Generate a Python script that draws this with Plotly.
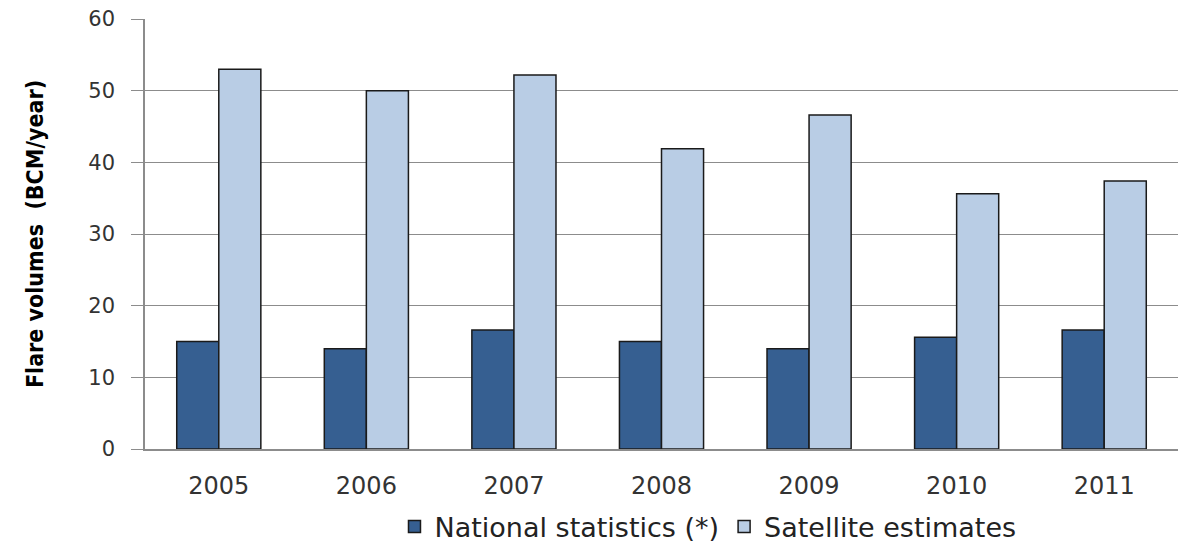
import plotly.graph_objects as go

years = ["2005", "2006", "2007", "2008", "2009", "2010", "2011"]
national = [15.0, 14.0, 16.6, 15.0, 14.0, 15.6, 16.6]
satellite = [53.0, 50.0, 52.2, 41.9, 46.6, 35.6, 37.4]
y_ticks = [0, 10, 20, 30, 40, 50, 60]

fig = go.Figure()
fig.add_bar(x=years, y=national, name="National statistics (*)",
            marker=dict(color="#365F91", line=dict(color="#1a1a1a", width=1.5)))
fig.add_bar(x=years, y=satellite, name="Satellite estimates",
            marker=dict(color="#B9CDE5", line=dict(color="#1a1a1a", width=1.5)))

fig.update_layout(
    width=1179, height=542,
    margin=dict(l=145, r=1, t=19, b=93, autoexpand=False),
    paper_bgcolor="white", plot_bgcolor="white",
    barmode="group", bargap=0.43, bargroupgap=0,
    font=dict(family="DejaVu Sans", size=20, color="#404040"),
    legend=dict(orientation="h", x=0.545, xanchor="center", y=-0.181, yanchor="middle",
                font=dict(family="DejaVu Sans", size=27, color="#222222"),
                traceorder="normal", itemwidth=30),
    showlegend=True,
)
fig.update_xaxes(showline=True, linecolor="#8c8c8c", linewidth=1.5, automargin=False,
                 ticks="", ticklabelstandoff=14,
                 tickfont=dict(size=24, color="#333333"))
fig.update_yaxes(range=[0, 60], tickvals=y_ticks, showgrid=True, gridcolor="#8c8c8c", gridwidth=1,
                 showline=True, linecolor="#8c8c8c", linewidth=1.5, automargin=False,
                 ticks="outside", ticklen=12, tickcolor="#8c8c8c",
                 ticklabelstandoff=12,
                 tickfont=dict(size=21, color="#333333"),
                 zeroline=False,
                 title=dict(text="<b>Flare volumes  (BCM/year)</b>",
                            font=dict(family="DejaVu Sans Condensed", size=23, color="#000000"),
                            standoff=38))

fig.write_html("out.html")
